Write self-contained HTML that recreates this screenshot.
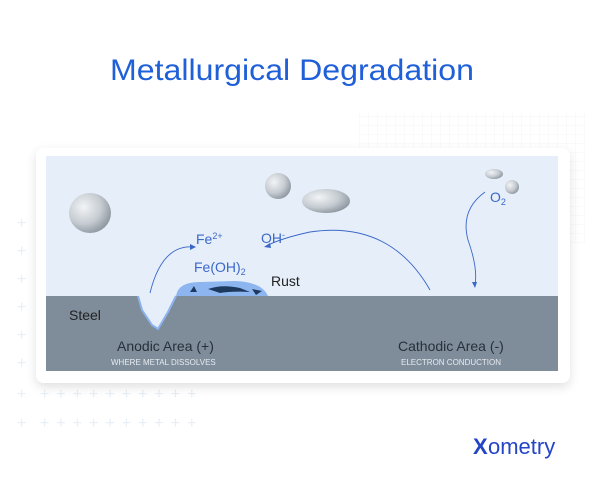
<!DOCTYPE html>
<html><head><meta charset="utf-8"><style>
body{margin:0;background:#fff;}
svg{display:block;}
text{font-family:"Liberation Sans",sans-serif;}
</style></head><body>
<svg width="600" height="480" viewBox="0 0 600 480" xmlns="http://www.w3.org/2000/svg">
<defs>
<pattern id="grid" width="9" height="9" patternUnits="userSpaceOnUse"><path d="M9 0V9M0 9H9" stroke="#eef2f8" stroke-width="0.7" fill="none"/></pattern>
<radialGradient id="rock" cx="0.35" cy="0.35" r="0.7"><stop offset="0" stop-color="#f2f4f6"/><stop offset="0.6" stop-color="#c5cbd1"/><stop offset="1" stop-color="#8e979f"/></radialGradient>
<filter id="sh" x="-10%" y="-10%" width="120%" height="130%"><feDropShadow dx="0" dy="4" stdDeviation="5" flood-color="#000" flood-opacity="0.12"/></filter>
</defs>
<rect width="600" height="480" fill="#fff"/>
<text x="110" y="80" font-size="30" fill="#1f5fd8" textLength="364" lengthAdjust="spacingAndGlyphs">Metallurgical Degradation</text>
<rect x="358" y="113" width="228" height="130" fill="url(#grid)"/>
<g fill="#e8eef6" font-size="16">
<text x="17" y="228">+</text><text x="17" y="256">+</text><text x="17" y="284">+</text><text x="17" y="312">+</text><text x="17" y="340">+</text><text x="17" y="368">+</text><text x="17" y="399">+</text><text x="17" y="428">+</text>
<text x="40" y="399" letter-spacing="7">++++++++++</text>
<text x="40" y="428" letter-spacing="7">++++++++++</text>
</g>
<rect x="36" y="148" width="534" height="235" rx="8" fill="#fff" filter="url(#sh)"/>
<rect x="46" y="156" width="512" height="215" fill="#e6eefa"/>
<path d="M46 296 H138 L142 310 L152 325 L158 329 L168 312 L176 296 H558 V371 H46Z" fill="#7f8c99"/>
<path d="M138 296 L142 310 L152 325 L158 329 L168 312 L176 296" fill="none" stroke="#8cb3ee" stroke-width="2"/>
<path d="M176 296 Q178 282 200 282 L235 281 Q262 282 268 296Z" fill="#8db6f0"/>
<path d="M208 289 Q222 284 240 288 L250 292 Q232 291 220 293Z" fill="#1d3a5e"/>
<path d="M190 292 l4 -6 l3 6z M252 289 l10 2 l-6 4z" fill="#1d3a5e"/>
<ellipse cx="90" cy="213" rx="21" ry="20" fill="url(#rock)"/>
<ellipse cx="278" cy="186" rx="13" ry="13" fill="url(#rock)"/>
<ellipse cx="326" cy="201" rx="24" ry="12" fill="url(#rock)"/>
<ellipse cx="494" cy="174" rx="9" ry="5" fill="url(#rock)"/>
<ellipse cx="512" cy="187" rx="7" ry="7" fill="url(#rock)"/>
<g fill="none" stroke="#3a67c8" stroke-width="0.9">
<path d="M150 293 Q162 244 194 247"/>
<path d="M430 290 Q390 220 310 232 Q282 238 266 246"/>
<path d="M485 192 Q460 210 468 240 Q478 268 475 285"/>
</g>
<g fill="#3a67c8">
<path d="M196 247 l-6 -3 l0 6z"/>
<path d="M264 247 l6 -4 l1 5z"/>
<path d="M475 288 l-3 -6 l5 0z"/>
</g>
<g fill="#3b68c9" font-size="14">
<text x="196" y="244">Fe<tspan font-size="9" dy="-5">2+</tspan></text>
<text x="261" y="243">OH<tspan font-size="9" dy="-5">-</tspan></text>
<text x="194" y="272">Fe(OH)<tspan font-size="9" dy="3">2</tspan></text>
<text x="490" y="202">O<tspan font-size="9" dy="3">2</tspan></text>
</g>
<text x="271" y="286" font-size="14" fill="#222">Rust</text>
<text x="69" y="320" font-size="14" fill="#222">Steel</text>
<text x="117" y="351" font-size="14" fill="#27313b">Anodic Area (+)</text>
<text x="111" y="365" font-size="8" fill="#e6ecf2">WHERE METAL DISSOLVES</text>
<text x="398" y="351" font-size="14" fill="#27313b">Cathodic Area (-)</text>
<text x="401" y="365" font-size="8" fill="#e6ecf2">ELECTRON CONDUCTION</text>
<text x="473" y="454" font-size="22" font-weight="bold" fill="#2345c6">X</text>
<text x="488" y="454" font-size="22" fill="#2345c6">ometry</text>
</svg>
</body></html>
